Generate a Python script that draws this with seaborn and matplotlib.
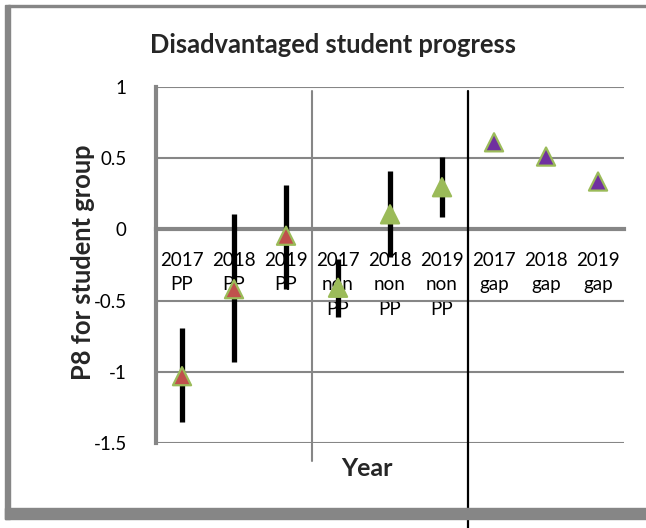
import numpy as np
import pandas as pd
import seaborn as sns
import matplotlib.pyplot as plt
from matplotlib.patches import Rectangle

# data
categories = ["2017\nPP", "2018\nPP", "2019\nPP",
              "2017\nnon\nPP", "2018\nnon\nPP", "2019\nnon\nPP",
              "2017\ngap", "2018\ngap", "2019\ngap"]
groups = ["PP", "PP", "PP", "non PP", "non PP", "non PP", "gap", "gap", "gap"]
p8 = [-1.03, -0.42, -0.045, -0.41, 0.105, 0.295, 0.61, 0.51, 0.335]
ci_low = [-1.35, -0.93, -0.42, -0.615, -0.195, 0.085, np.nan, np.nan, np.nan]
ci_high = [-0.695, 0.105, 0.31, -0.21, 0.41, 0.505, np.nan, np.nan, np.nan]
y_ticks = [1, 0.5, 0, -0.5, -1, -1.5]
y_tick_labels = ["1", "0.5", "0", "-0.5", "-1", "-1.5"]

df = pd.DataFrame({"cat": categories, "group": groups, "p8": p8,
                   "lo": ci_low, "hi": ci_high})

sns.set_style("white")
plt.rcParams['font.family'] = ['Lato', 'DejaVu Sans']

grey = "#868686"
fig = plt.figure(figsize=(6.46, 5.28), dpi=100)
ax = fig.add_axes([0.2415, 0.1606, 0.7245, 0.6752])

palette = {"PP": "#C0504D", "non PP": "#9BBB59", "gap": "#7030A0"}

# error bars first so the triangles sit on top
ebars = df.dropna()
ax.vlines(ebars["cat"], ebars["lo"], ebars["hi"], color="black", lw=3.8, zorder=3)

sns.scatterplot(data=df, x="cat", y="p8", hue="group", palette=palette,
                marker="^", s=170, edgecolor="#9BBB59", linewidth=1.6,
                legend=False, zorder=4, ax=ax)

ax.set_xlim(-0.5, len(categories) - 0.5)
ax.set_ylim(-1.5, 1)
ax.set_yticks(y_ticks)
ax.set_yticklabels(y_tick_labels)

ax.yaxis.grid(True, color=grey, lw=1.5)
ax.set_axisbelow(True)
for s in ["top", "right"]:
    ax.spines[s].set_visible(False)
ax.spines["left"].set_color(grey)
ax.spines["left"].set_linewidth(3)
ax.spines["bottom"].set_position(("data", 0))
ax.spines["bottom"].set_color(grey)
ax.spines["bottom"].set_linewidth(3)

ax.tick_params(axis="x", length=0, pad=16, labelsize=13.5, labelcolor="black")
ax.tick_params(axis="y", length=0, pad=21, labelsize=13.5, labelcolor="black")
for t in ax.get_xticklabels():
    t.set_linespacing(1.55)
    t.set_verticalalignment("top")

# separators between the three groups
ax.axvline(2.5, ymin=-0.05, ymax=0.988, color=grey, lw=1.5, clip_on=False, zorder=1)
ax.axvline(5.5, ymin=-0.25, ymax=0.988, color="black", lw=1.6, clip_on=False, zorder=10)

ax.set_xlabel("")
ax.set_ylabel("")
fig.text(367 / 646, 1 - 469 / 528, "Year", ha="center", va="center",
         fontsize=18, fontweight="bold")
fig.text(83 / 646, 1 - 262 / 528, "P8 for student group", ha="center", va="center",
         rotation=90, fontsize=18.4, fontweight="bold")
fig.text(333 / 646, 1 - 45 / 528, "Disadvantaged student progress", ha="center",
         va="center", fontsize=18.4, fontweight="bold")

# outer chart frame
W, H = 646, 528
fig.patches.append(Rectangle((8 / W, 1 - 7 / H), 1, 2 / H, transform=fig.transFigure,
                             color=grey, zorder=0))
fig.patches.append(Rectangle((5 / W, 1 - 519 / H), 5 / W, 514 / H, transform=fig.transFigure,
                             color=grey, zorder=0))
fig.patches.append(Rectangle((5 / W, 1 - 519 / H), 1, 11 / H, transform=fig.transFigure,
                             color=grey, zorder=0))

fig.savefig("out.png", dpi=100)
